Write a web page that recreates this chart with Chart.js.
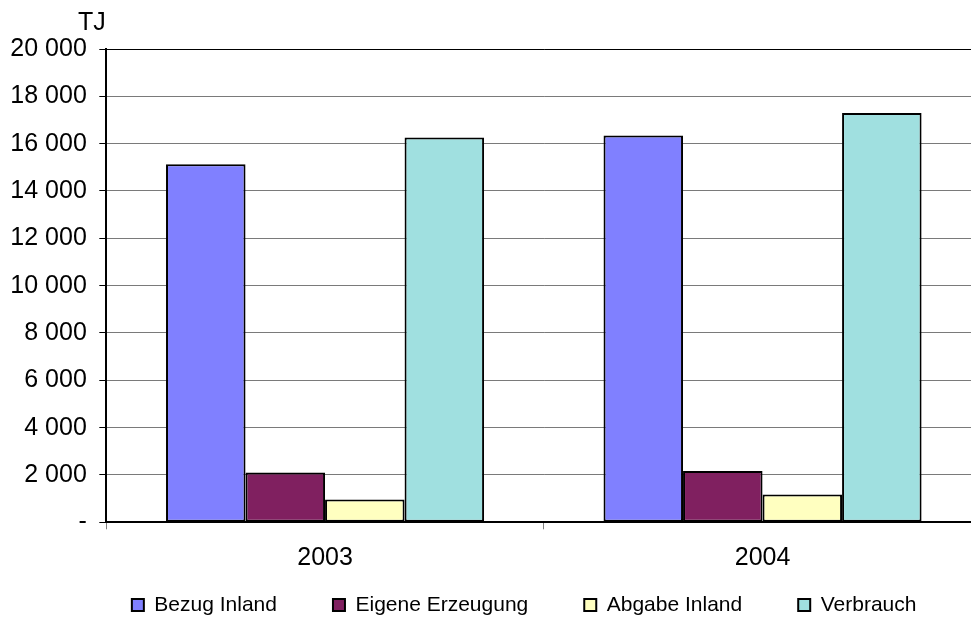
<!DOCTYPE html>
<html>
<head>
<meta charset="utf-8">
<script src="https://cdn.jsdelivr.net/npm/chart.js@4/dist/chart.umd.min.js"></script>
<style>
  html, body { margin: 0; padding: 0; background: #fff; overflow: hidden; width: 971px; height: 628px; }
  #wrap { position: absolute; left: 0; top: 0; width: 1000px; height: 628px; }
</style>
</head>
<body>
<div id="wrap"><canvas id="c"></canvas></div>
<script>
const categories = ['2003', '2004'];
const seriesNames = ['Bezug Inland', 'Eigene Erzeugung', 'Abgabe Inland', 'Verbrauch'];
const bezugInland = [15130, 16350];
const eigeneErzeugung = [2100, 2170];
const abgabeInland = [960, 1170];
const verbrauch = [16260, 17300];
const seriesColors = ['#8080FF', '#802060', '#FFFFC0', '#A0E0E0'];
const unitLabel = 'TJ';

const FONT = '"Liberation Sans", Arial, sans-serif';

function fmt(v) {
  if (v === 0) return '-';
  return String(v).replace(/\B(?=(\d{3})+(?!\d))/g, ' ');
}

// Legend placement: the reference centres the legend under a plot that runs
// past the right edge of the picture, so the legend box is re-anchored here.
const legendPlace = {
  id: 'legendPlace',
  afterInit(chart) {
    const lg = chart.legend;
    if (!lg) return;
    const origFit = lg.fit.bind(lg);
    lg.fit = function () {
      origFit();
      this.height = 54.7;
    };
  },
  beforeDraw(chart) {
    const lg = chart.legend;
    if (!lg) return;
    lg.left = 67;
    lg.right = 981.3;
    lg.top = 538.5;
  },
  afterDraw(chart) {
    const ctx = chart.ctx;
    ctx.save();
    ctx.font = '25px ' + FONT;
    ctx.fillStyle = '#000';
    ctx.textAlign = 'left';
    ctx.textBaseline = 'middle';
    ctx.fillText(unitLabel, 78, 23);
    ctx.restore();
  }
};

const values = [bezugInland, eigeneErzeugung, abgabeInland, verbrauch];

new Chart(document.getElementById('c'), {
  type: 'bar',
  data: {
    labels: categories,
    datasets: seriesNames.map((n, i) => ({
      label: n,
      data: values[i],
      backgroundColor: seriesColors[i],
      borderColor: '#000',
      borderWidth: 2,
      borderSkipped: false,
      barPercentage: 1.0,
      categoryPercentage: 0.727
    }))
  },
  options: {
    responsive: true,
    maintainAspectRatio: false,
    animation: false,
    devicePixelRatio: 1,
    layout: { padding: { left: 0, right: 18.7, top: 49, bottom: 0 } },
    plugins: {
      tooltip: { enabled: false },
      title: { display: false },
      legend: {
        position: 'bottom',
        align: 'center',
        labels: {
          font: { family: FONT, size: 21 },
          color: '#000',
          boxWidth: 12,
          boxHeight: 12,
          padding: 56,
          generateLabels(chart) {
            return chart.data.datasets.map((d, i) => ({
              text: d.label,
              fillStyle: d.backgroundColor,
              strokeStyle: '#000',
              lineWidth: 2,
              hidden: false,
              datasetIndex: i,
              fontColor: '#000'
            }));
          }
        }
      }
    },
    scales: {
      x: {
        offset: true,
        grid: {
          display: true,
          offset: true,
          drawOnChartArea: false,
          drawTicks: true,
          tickLength: 7,
          color: '#808080',
          lineWidth: 1
        },
        border: { display: true, color: '#000', width: 2 },
        ticks: {
          font: { family: FONT, size: 25 },
          color: '#000',
          padding: 13.5,
          maxRotation: 0
        },
        afterFit(scale) { scale.height = 51; }
      },
      y: {
        min: 0,
        max: 20000,
        grid: {
          drawTicks: true,
          tickLength: 7,
          color: (c) => (c.tick && c.tick.value === 20000) ? '#000' : '#7a7a7a',
          tickColor: '#000',
          lineWidth: 1
        },
        border: { display: true, color: '#000', width: 2 },
        ticks: {
          stepSize: 2000,
          font: { family: FONT, size: 25 },
          color: '#000',
          padding: 12.5,
          callback: (v) => fmt(v)
        },
        afterFit(scale) { scale.width = 106.3; }
      }
    }
  },
  plugins: [legendPlace]
});
</script>
</body>
</html>
